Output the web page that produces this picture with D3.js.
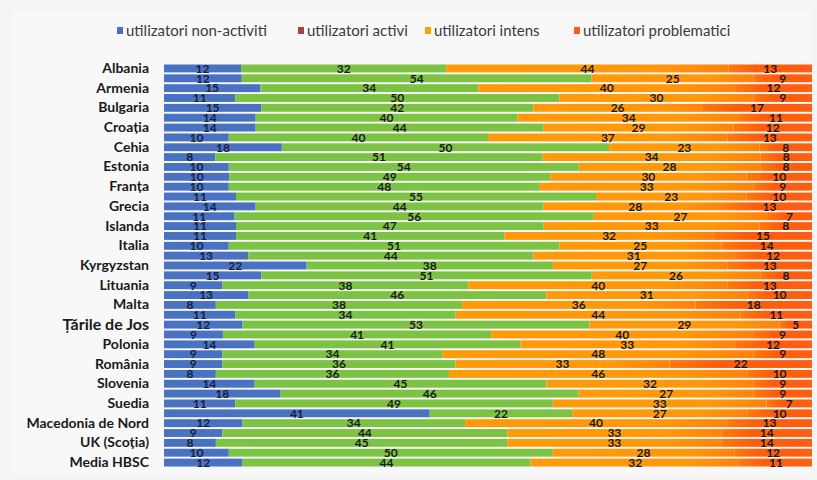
<!DOCTYPE html>
<html><head><meta charset="utf-8">
<script src="https://cdn.jsdelivr.net/npm/d3@7"></script>
<style>
html,body{margin:0;padding:0;background:#f4f4f4;}
svg{display:block;}
</style></head>
<body>
<svg id="chart" width="817" height="480"></svg>
<script>
const categories = ["Albania","","Armenia","","Bulgaria","","Croația","","Cehia","","Estonia","","Franța","","Grecia","","Islanda","","Italia","","Kyrgyzstan","","Lituania","","Malta","","Țările de Jos","","Polonia","","România","","Slovenia","","Suedia","","Macedonia de Nord","","UK (Scoția)","","Media HBSC"];
const nonActivi    = [12,12,15,11,15,14,14,10,18,8,10,10,10,11,14,11,11,11,10,13,22,15,9,13,8,11,12,9,14,9,9,8,14,18,11,41,12,9,8,10,12];
const activi       = [32,54,34,50,42,40,44,40,50,51,54,49,48,55,44,56,47,41,51,44,38,51,38,46,38,34,53,41,41,34,36,36,45,46,49,22,34,44,45,50,44];
const intens       = [44,25,40,30,26,34,29,37,23,34,28,30,33,23,28,27,33,32,25,31,27,26,40,31,36,44,29,40,33,48,33,46,32,27,33,27,40,33,33,28,32];
const problematici = [13,9,12,9,17,11,12,13,8,8,8,10,9,10,13,7,8,15,14,12,13,8,13,10,18,11,5,9,12,9,22,10,9,9,7,10,13,14,14,12,11];
const seriesNames  = ["utilizatori non-activiti","utilizatori activi","utilizatori intens","utilizatori problematici"];

const colors = ["#4a72c2","#7cc243","#ff9a0a","#ff5f0f"];
const legendColors = ["#4a6fc0","#a5453a","#ffa10a","#ff5a14"];

const svg = d3.select("#chart");
const W = 817, H = 480;
const m = {left:164, right:5, top:64, bottom:13};

svg.append("rect").attr("x",0).attr("y",0).attr("width",W).attr("height",H).attr("fill","#f4f4f4");
svg.append("rect").attr("x",12).attr("y",10).attr("width",W-18).attr("height",H-16).attr("fill","#f8f8f8");

const idx = d3.range(categories.length);
const rows = idx.map(i => {
  const vals = [nonActivi[i], activi[i], intens[i], problematici[i]];
  const tot = d3.sum(vals);
  return {i, vals, tot};
});

const y = d3.scaleBand().domain(idx).range([m.top, H - m.bottom]).paddingInner(0.2).paddingOuter(0.05);
const x = d3.scaleLinear().domain([0, 1]).range([m.left, W - m.right]);

const defs = svg.append("defs");
const grad = defs.append("linearGradient").attr("id","redGrad").attr("x1","0").attr("x2","1").attr("y1","0").attr("y2","0");
grad.append("stop").attr("offset","0%").attr("stop-color","#ff7a0a");
grad.append("stop").attr("offset","35%").attr("stop-color","#ff5c0c");
grad.append("stop").attr("offset","100%").attr("stop-color","#ff5f12");
const oGrad = defs.append("linearGradient").attr("id","orGrad").attr("x1","0").attr("x2","1").attr("y1","0").attr("y2","0");
oGrad.append("stop").attr("offset","0%").attr("stop-color","#ff9a08");
oGrad.append("stop").attr("offset","75%").attr("stop-color","#ff980a");
oGrad.append("stop").attr("offset","100%").attr("stop-color","#ff820a");

const fills = [colors[0], colors[1], "url(#orGrad)", "url(#redGrad)"];

const segs = [];
rows.forEach(r => {
  let c = 0;
  r.vals.forEach((v, k) => {
    const s = c / r.tot, e = (c + v) / r.tot;
    segs.push({i: r.i, k, v, s, e});
    c += v;
  });
});

svg.append("g").selectAll("rect").data(segs).join("rect")
  .attr("x", d => x(d.s))
  .attr("y", d => y(d.i))
  .attr("width", d => x(d.e) - x(d.s))
  .attr("height", y.bandwidth())
  .attr("fill", d => fills[d.k]);

svg.append("g").selectAll("text").data(segs).join("text")
  .attr("x", d => (x(d.s) + x(d.e)) / 2)
  .attr("y", d => y(d.i) + y.bandwidth() / 2)
  .attr("dy", "0.36em")
  .attr("text-anchor", "middle")
  .attr("font-family", "Lato, 'Open Sans', sans-serif")
  .attr("font-weight", "bold")
  .attr("font-size", "12px")
  .attr("fill", d => d.k === 0 ? "#14213d" : "#1a1a1a")
  .text(d => d.v);

const yAxis = d3.axisLeft(y).tickSize(0).tickPadding(15).tickFormat(i => categories[i]);
const ga = svg.append("g").attr("transform", `translate(${m.left},0)`).call(yAxis);
ga.select(".domain").remove();
ga.selectAll("text")
  .attr("font-family", "Lato, 'Open Sans', sans-serif")
  .attr("font-weight", "bold")
  .attr("font-size", i => categories[i] === "Țările de Jos" ? "16px" : "14px")
  .attr("fill", "#1a1a1a");

const legX = [117, 298, 425, 574];
const lg = svg.append("g").attr("font-family", "Lato, 'Open Sans', sans-serif").attr("font-size", "15px");
seriesNames.forEach((n, k) => {
  lg.append("rect").attr("x", legX[k]).attr("y", 27).attr("width", 6).attr("height", 7).attr("fill", legendColors[k]);
  lg.append("text").attr("x", legX[k] + 9).attr("y", 36).attr("fill", "#3a3a3a").text(n);
});
</script>
</body></html>
